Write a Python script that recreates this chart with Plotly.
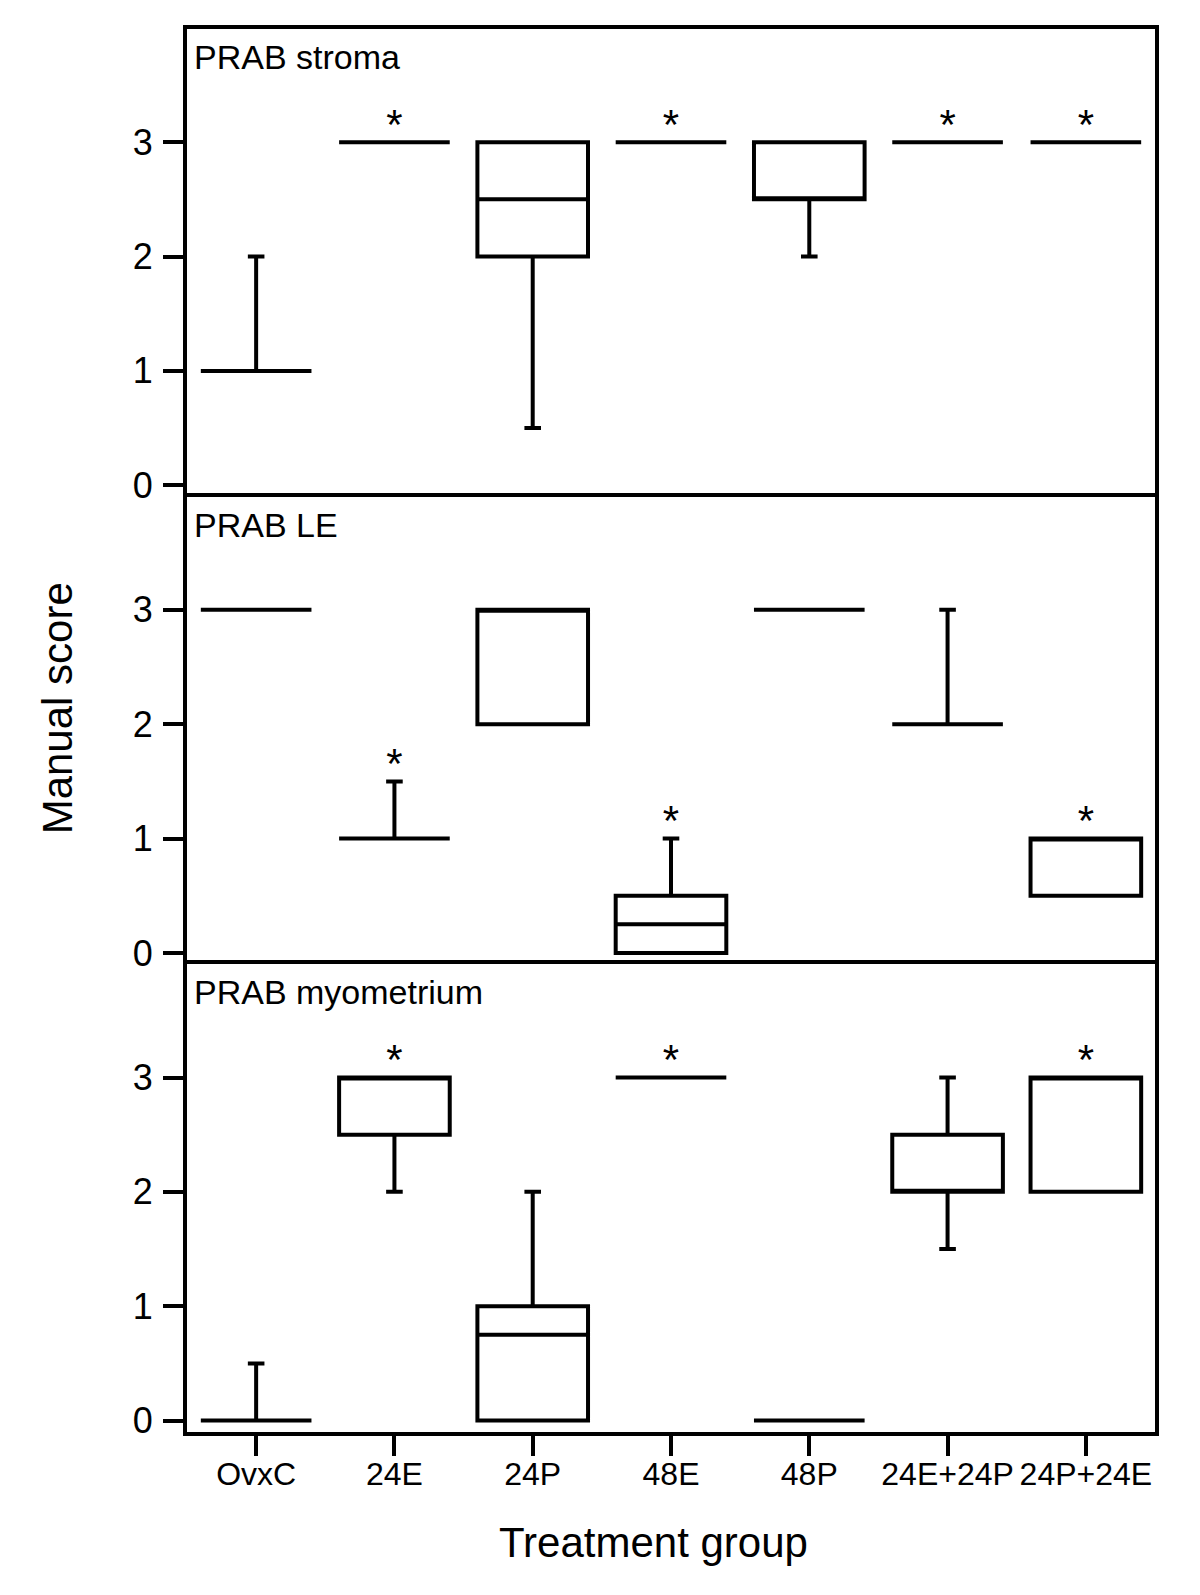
import plotly.graph_objects as go
from plotly.subplots import make_subplots

cats = ["OvxC", "24E", "24P", "48E", "48P", "24E+24P", "24P+24E"]

panel_names = ["PRAB stroma", "PRAB LE", "PRAB myometrium"]

stroma_q1 = [1, 3, 2, 3, 2.5, 3, 3]
stroma_med = [1, 3, 2.5, 3, 2.5, 3, 3]
stroma_q3 = [1, 3, 3, 3, 3, 3, 3]
stroma_lo = [1, 3, 0.5, 3, 2, 3, 3]
stroma_hi = [2, 3, 3, 3, 3, 3, 3]
stroma_star = [0, 1, 0, 1, 0, 1, 1]

le_q1 = [3, 1, 2, 0, 3, 2, 0.5]
le_med = [3, 1, 3, 0.25, 3, 2, 1]
le_q3 = [3, 1, 3, 0.5, 3, 2, 1]
le_lo = [3, 1, 2, 0, 3, 2, 0.5]
le_hi = [3, 1.5, 3, 1, 3, 3, 1]
le_star = [0, 1, 0, 1, 0, 0, 1]

myo_q1 = [0, 2.5, 0, 3, 0, 2, 2]
myo_med = [0, 3, 0.75, 3, 0, 2, 3]
myo_q3 = [0, 3, 1, 3, 0, 2.5, 3]
myo_lo = [0, 2, 0, 3, 0, 1.5, 2]
myo_hi = [0.5, 3, 2, 3, 0, 3, 3]
myo_star = [0, 1, 0, 1, 0, 0, 1]

yticks = [0, 1, 2, 3]

panels = [
    (stroma_q1, stroma_med, stroma_q3, stroma_lo, stroma_hi, stroma_star),
    (le_q1, le_med, le_q3, le_lo, le_hi, le_star),
    (myo_q1, myo_med, myo_q3, myo_lo, myo_hi, myo_star),
]

FONT = "Liberation Sans, Arial, sans-serif"
LW = 4

fig = make_subplots(rows=3, cols=1, shared_xaxes=True, vertical_spacing=0)

for i, (q1, med, q3, lo, hi, star) in enumerate(panels, start=1):
    fig.add_trace(
        go.Box(
            x=cats, q1=q1, median=med, q3=q3, lowerfence=lo, upperfence=hi,
            width=0.8, whiskerwidth=0.15,
            line=dict(color="black", width=LW),
            fillcolor="rgba(0,0,0,0)",
            boxpoints=False, showlegend=False, hoverinfo="skip",
        ),
        row=i, col=1,
    )
    sx = [c for c, s in zip(cats, star) if s]
    sy = [h + 0.12 for h, s in zip(hi, star) if s]
    fig.add_trace(
        go.Scatter(
            x=sx, y=sy, mode="text", text=["*"] * len(sx),
            textposition="middle center",
            textfont=dict(family=FONT, size=42, color="black"),
            showlegend=False, hoverinfo="skip", cliponaxis=False,
        ),
        row=i, col=1,
    )
    fig.update_yaxes(
        range=[-0.1, 3.99], tickvals=yticks, ticks="outside", ticklen=20,
        tickwidth=LW, tickcolor="black", showline=True, linecolor="black",
        linewidth=LW, mirror=True, showgrid=False, zeroline=False,
        tickfont=dict(family=FONT, size=36, color="black"),
        ticklabelstandoff=3,
        row=i, col=1,
    )
    fig.update_xaxes(
        type="category", categoryorder="array", categoryarray=cats,
        range=[-0.5, 6.5], showline=True, linecolor="black", linewidth=LW,
        side="bottom" if i == 3 else "top",
        mirror=(i == 3), showgrid=False, zeroline=False,
        ticks="outside" if i == 3 else "", ticklen=20, tickwidth=LW,
        tickcolor="black", showticklabels=(i == 3),
        tickfont=dict(family=FONT, size=32, color="black"),
        ticklabelstandoff=-9,
        row=i, col=1,
    )
    yref = "y domain" if i == 1 else f"y{i} domain"
    xref = "x domain" if i == 1 else f"x{i} domain"
    fig.add_annotation(
        text=panel_names[i - 1], xref=xref, yref=yref, x=0, y=1,
        xanchor="left", yanchor="top", xshift=5, yshift=-7,
        showarrow=False, font=dict(family=FONT, size=34, color="black"),
    )

fig.add_annotation(
    text="Treatment group", xref="paper", yref="paper", x=0.482, y=-0.079,
    xanchor="center", yanchor="middle", showarrow=False,
    font=dict(family=FONT, size=42, color="black"),
)
fig.add_annotation(
    text="Manual score", xref="paper", yref="paper", x=-0.134, y=0.516,
    xanchor="center", yanchor="middle", textangle=-90, showarrow=False,
    font=dict(family=FONT, size=42, color="black"),
)

fig.update_layout(
    width=1200, height=1595,
    margin=dict(l=179, r=53, t=21, b=171),
    plot_bgcolor="white", paper_bgcolor="white",
    showlegend=False,
)

fig.write_html("out.html")
